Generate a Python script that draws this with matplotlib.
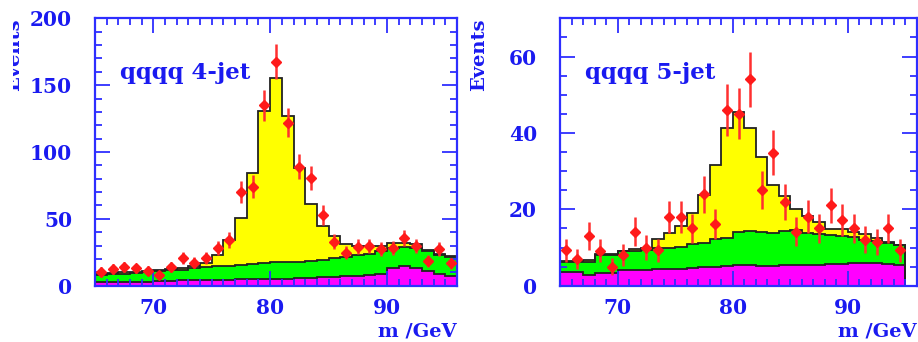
import numpy as np
import matplotlib
matplotlib.use("Agg")
import matplotlib.pyplot as plt
from matplotlib.ticker import MultipleLocator
from matplotlib.transforms import Bbox, TransformedBbox

plt.rcParams['font.family'] = ['DejaVu Serif']
plt.rcParams['font.weight'] = 'bold'

# 1 GeV bins from 65 to 96
edges = np.arange(65, 97)
centers = edges[:-1] + 0.5

# qqqq 4-jet: stacked MC (top of each layer) and data
magenta4 = [2.5, 2.5, 3, 3, 3, 3.5, 3.5, 4, 4, 4, 4.5, 4.5, 5, 5, 5, 5,
            5, 5.5, 6, 6.5, 6.5, 7, 7.5, 8, 9, 13, 14.5, 13.5, 11, 8.5, 7]
green4 = [8, 8.5, 9, 9.5, 10, 11, 11.5, 12, 13, 14, 14.5, 15, 15.5, 16, 17, 17.5,
          18, 18, 18.5, 19.5, 20.5, 21.5, 23, 24, 26, 28, 29, 28, 26, 23, 21.5]
total4 = [9, 9.5, 10, 10.5, 11, 11.5, 12.5, 13.5, 14.5, 17, 23, 34, 51, 84, 131, 155,
          127, 88, 61, 45, 37, 31, 30, 30, 30, 32, 32, 31, 27, 24, 22.5]
data4 = [10.5, 12.5, 14.2, 13, 11.2, 8, 14.2, 20.5, 17.2, 20.5, 28.4, 34.2, 70, 74, 135, 167.5,
         122, 89, 80.3, 52.9, 33, 24.7, 29.2, 29.7, 27.2, 28.4, 35.4, 29.7, 18.5, 27.2, 16.8]
err4 = [3.2, 3.5, 3.8, 3.6, 3.3, 2.8, 3.8, 4.5, 4.1, 4.5, 5.3, 5.8, 8.4, 8.6, 11.6, 13,
        11, 9.4, 9, 7.3, 5.7, 5, 5.4, 5.4, 5.2, 5.3, 5.9, 5.4, 4.3, 5.2, 4.1]

# qqqq 5-jet
magenta5 = [3.7, 3.7, 2.8, 3.4, 3.4, 4.1, 4.1, 4.2, 4.3, 4.4, 4.5, 4.6, 4.8, 4.9, 5.1, 5.3,
            5.3, 5.2, 5.1, 5.3, 5.3, 5.4, 5.3, 5.6, 5.8, 5.9, 6.0, 5.9, 5.8, 5.5, 0]
green5 = [6.3, 6.2, 6.3, 8, 8, 9, 9.2, 9.4, 10, 10, 10.2, 11, 11.3, 12.2, 12.6, 14.1,
          14.2, 14, 13.8, 14.2, 14.5, 13.8, 13.6, 13.3, 13, 12.8, 12, 11.6, 11.3, 10.6, 0]
total5 = [6.5, 6.5, 6.6, 8.2, 8.3, 9.2, 9.5, 9.8, 12.1, 13.7, 15.5, 19, 23.8, 31.6, 41.2, 45.6,
          41.4, 33.8, 26.4, 23.5, 20.2, 18.3, 16.6, 14.9, 14.8, 14.1, 13.5, 12.5, 11.5, 10.6, 0]
data5 = [9.3, 6.9, 13, 9.2, 5, 8, 14.1, 10, 9.3, 17.9, 17.9, 15, 23.9, 16.2, 46,
         45, 54, 25, 34.8, 22, 14.1, 18.1, 15, 21.1, 17.2, 15, 12, 11.5, 15, 9.3]
err5 = [3.0, 2.6, 3.6, 3.0, 2.2, 2.8, 3.8, 3.2, 3.0, 4.2, 4.2, 3.9, 4.9, 4.0, 6.8,
        6.7, 7.3, 5.0, 5.9, 4.7, 3.8, 4.3, 3.9, 4.6, 4.1, 3.9, 3.5, 3.4, 3.9, 3.0]

blue = '#2e2eff'
txt_blue = '#1a1af0'

fig = plt.figure(figsize=(9.18, 3.42), dpi=100)
ax1 = fig.add_axes([95 / 918, 56.3 / 342, 362 / 918, 267.4 / 342])
ax2 = fig.add_axes([560 / 918, 56.3 / 342, 357 / 918, 267.4 / 342])


def draw_panel(ax, magenta, green, total, data, err, ymax, major, minor, label):
    ax.stairs(magenta, edges, baseline=0, fill=True, color='#ff00ff', lw=0)
    ax.stairs(green, edges, baseline=magenta, fill=True, color='#00ff00', lw=0)
    ax.stairs(total, edges, baseline=green, fill=True, color='#ffff00', lw=0)
    for top in (magenta, green, total):
        ax.stairs(top, edges, baseline=None, color='#222222', lw=1.3)
    ax.errorbar(centers[:len(data)], data, yerr=err, xerr=0.3, fmt='D', ms=5,
                color='#ff1a1a', ecolor='#ff3030', elinewidth=1.8, capsize=0,
                mec='#ff1a1a', zorder=5)

    ax.set_xlim(65, 96)
    ax.set_ylim(0, ymax)
    ax.xaxis.set_major_locator(MultipleLocator(10))
    ax.xaxis.set_minor_locator(MultipleLocator(1))
    ax.yaxis.set_major_locator(MultipleLocator(major))
    ax.yaxis.set_minor_locator(MultipleLocator(minor))
    ax.tick_params(which='both', direction='in', top=True, right=True,
                   color=blue, labelcolor=txt_blue, labelsize=14.5, width=1.3)
    ax.tick_params(which='major', length=11)
    ax.tick_params(which='minor', length=5)
    ax.tick_params(axis='y', pad=16.5)
    ax.tick_params(axis='x', pad=9)
    for s in ax.spines.values():
        s.set_color(blue)
        s.set_linewidth(1.6)

    ax.annotate(label, xy=(0, 1), xycoords='axes fraction', xytext=(25, -61),
                textcoords='offset pixels', ha='left', va='baseline',
                fontsize=16.5, color=txt_blue)
    ax.annotate('m /GeV', xy=(1, 0), xycoords='axes fraction', xytext=(0, -37),
                textcoords='offset pixels', ha='right', va='top',
                fontsize=14, color=txt_blue)
    ev = ax.annotate('Events', xy=(0, 1), xycoords='axes fraction', xytext=(-81, 0),
                     textcoords='offset pixels', rotation=90, ha='center', va='top',
                     fontsize=14, color=txt_blue)
    return ev


ev1 = draw_panel(ax1, magenta4, green4, total4, data4, err4, 200, 50, 10, 'qqqq 4-jet')
draw_panel(ax2, magenta5, green5, total5, data5, err5, 70, 20, 5, 'qqqq 5-jet')

# left "Events" label is cut off in the original
ev1.set_clip_on(True)
ev1.set_clip_box(TransformedBbox(Bbox([[13 / 918, 0], [1, 1]]), fig.transFigure))

fig.savefig('out.png', dpi=100)
